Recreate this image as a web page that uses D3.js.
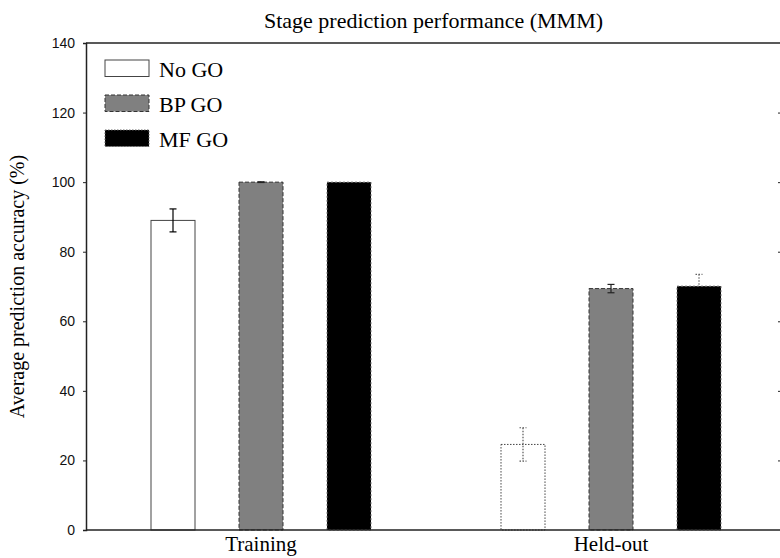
<!DOCTYPE html>
<html>
<head>
<meta charset="utf-8">
<script src="https://cdn.jsdelivr.net/npm/d3@7/dist/d3.min.js"></script>
<style>
  html, body { margin: 0; padding: 0; background: #fff; }
  svg { display: block; }
</style>
</head>
<body>
<svg id="chart" width="780" height="558"></svg>
<script>
// Stage prediction accuracy with and without GO features
const categories = ["Training", "Held-out"];
const series = ["No GO", "BP GO", "MF GO"];
const noGoValues = [89.0, 24.6];
const bpGoValues = [100.0, 69.4];
const mfGoValues = [100.0, 70.1];
const noGoErrors = [3.3, 4.8];
const bpGoErrors = [0.1, 1.2];
const mfGoErrors = [0.0, 3.4];
const yTicks = [0, 20, 40, 60, 80, 100, 120, 140];

const values = { "No GO": noGoValues, "BP GO": bpGoValues, "MF GO": mfGoValues };
const errors = { "No GO": noGoErrors, "BP GO": bpGoErrors, "MF GO": mfGoErrors };

const svg = d3.select("#chart");
const plotL = 86, plotR = 781, plotT = 43, plotB = 530;
const serif = "'Liberation Serif', 'Times New Roman', serif";
const sans = "'Liberation Sans', Arial, sans-serif";

const y = d3.scaleLinear().domain([0, 140]).range([plotB, plotT]);
const x0 = d3.scaleBand().domain(categories).range([plotL, plotL + 700]).padding(0);
const x1 = d3.scaleBand().domain(series)
  .range([x0.bandwidth() / 2 - 132, x0.bandwidth() / 2 + 132])
  .paddingInner(0.5).paddingOuter(0.25);

// per-series / per-category drawing styles; black bars keep their error bars behind them
const styleOf = (s, ci) => {
  if (s === "No GO") return { fill: "#fff", stroke: "#444", dash: ci === 0 ? null : "1.5,1.5", eb: ci === 0 ? "#000" : "#555", ebDash: ci === 0 ? null : "1.5,1.5", behind: false };
  if (s === "BP GO") return { fill: "#808080", stroke: "#333", dash: "4,2", eb: "#222", ebDash: null, behind: false };
  return { fill: "#000", stroke: "#777", dash: "2,2", eb: "#666", ebDash: "1.5,1.5", behind: true };
};

const rows = [];
categories.forEach((c, ci) => series.forEach(s => rows.push({ c, ci, s, v: values[s][ci], e: errors[s][ci] })));

const capW = 3.5;
const cx = d => x0(d.c) + x1(d.s) + x1.bandwidth() / 2;
function drawErrors(layer, data) {
  const eb = layer.selectAll("g.err").data(data).join("g").attr("class", "err")
    .attr("stroke", d => styleOf(d.s, d.ci).eb)
    .attr("stroke-dasharray", d => styleOf(d.s, d.ci).ebDash)
    .attr("stroke-width", 1.2);
  eb.append("line").attr("x1", cx).attr("x2", cx).attr("y1", d => y(d.v + d.e)).attr("y2", d => y(d.v - d.e));
  eb.append("line").attr("x1", d => cx(d) - capW).attr("x2", d => cx(d) + capW).attr("y1", d => y(d.v + d.e)).attr("y2", d => y(d.v + d.e));
  eb.append("line").attr("x1", d => cx(d) - capW).attr("x2", d => cx(d) + capW).attr("y1", d => y(d.v - d.e)).attr("y2", d => y(d.v - d.e));
}

const withErr = rows.filter(d => d.e > 0.05);
drawErrors(svg.append("g"), withErr.filter(d => styleOf(d.s, d.ci).behind));

// bars
svg.append("g").selectAll("rect.bar").data(rows).join("rect")
  .attr("class", "bar")
  .attr("x", d => x0(d.c) + x1(d.s))
  .attr("y", d => y(d.v))
  .attr("width", x1.bandwidth())
  .attr("height", d => y(0) - y(d.v))
  .attr("fill", d => styleOf(d.s, d.ci).fill)
  .attr("stroke", d => styleOf(d.s, d.ci).stroke)
  .attr("stroke-width", 1)
  .attr("stroke-dasharray", d => styleOf(d.s, d.ci).dash);

drawErrors(svg.append("g"), withErr.filter(d => !styleOf(d.s, d.ci).behind));

// frame: left axis, bottom and top lines, right axis just off the edge
const axisColor = "#222";
svg.append("line").attr("x1", plotL).attr("x2", plotR).attr("y1", plotB).attr("y2", plotB).attr("stroke", axisColor).attr("stroke-width", 1.5);
svg.append("line").attr("x1", plotL).attr("x2", plotR).attr("y1", plotT).attr("y2", plotT).attr("stroke", axisColor).attr("stroke-width", 1.5);
svg.append("line").attr("x1", plotR).attr("x2", plotR).attr("y1", plotT).attr("y2", plotB).attr("stroke", axisColor).attr("stroke-width", 1.5);

const yAxis = svg.append("g").attr("transform", `translate(${plotL},0)`)
  .call(d3.axisLeft(y).tickValues(yTicks).tickSize(3).tickPadding(8).tickFormat(d3.format("d")));
yAxis.select(".domain").attr("stroke", axisColor).attr("stroke-width", 1.5);
yAxis.selectAll(".tick line").attr("stroke", axisColor);
yAxis.selectAll(".tick text").attr("font-family", sans).attr("font-size", 14).attr("fill", "#111");

const rAxis = svg.append("g").attr("transform", `translate(${plotR},0)`)
  .call(d3.axisLeft(y).tickValues(yTicks.filter(t => t > 0 && t < 140)).tickSize(3).tickFormat(""));
rAxis.select(".domain").remove();
rAxis.selectAll(".tick line").attr("stroke", axisColor);

// category labels
svg.selectAll("text.cat").data(categories).join("text")
  .attr("class", "cat")
  .attr("x", d => x0(d) + x0.bandwidth() / 2)
  .attr("y", 551)
  .attr("text-anchor", "middle")
  .attr("font-family", serif).attr("font-size", 21)
  .text(d => d);

// title and axis label
svg.append("text").attr("x", (plotL + plotR) / 2).attr("y", 28)
  .attr("text-anchor", "middle").attr("font-family", serif).attr("font-size", 22)
  .text("Stage prediction performance (MMM)");
svg.append("text").attr("transform", `translate(24,${(plotT + plotB) / 2}) rotate(-90)`)
  .attr("text-anchor", "middle").attr("font-family", serif).attr("font-size", 20)
  .text("Average prediction accuracy (%)");

// legend
const legendStyles = {
  "No GO": { fill: "#fff", stroke: "#444", dash: null },
  "BP GO": { fill: "#808080", stroke: "#333", dash: "4,2" },
  "MF GO": { fill: "#000", stroke: "#666", dash: "1.5,1.5" }
};
const lg = svg.append("g").attr("transform", "translate(105,60)");
const item = lg.selectAll("g").data(series).join("g").attr("transform", (d, i) => `translate(0,${i * 35})`);
item.append("rect").attr("width", 44).attr("height", 16.5)
  .attr("fill", d => legendStyles[d].fill).attr("stroke", d => legendStyles[d].stroke)
  .attr("stroke-dasharray", d => legendStyles[d].dash);
item.append("text").attr("x", 54).attr("y", 16.5)
  .attr("font-family", serif).attr("font-size", 22).text(d => d);
</script>
</body>
</html>
